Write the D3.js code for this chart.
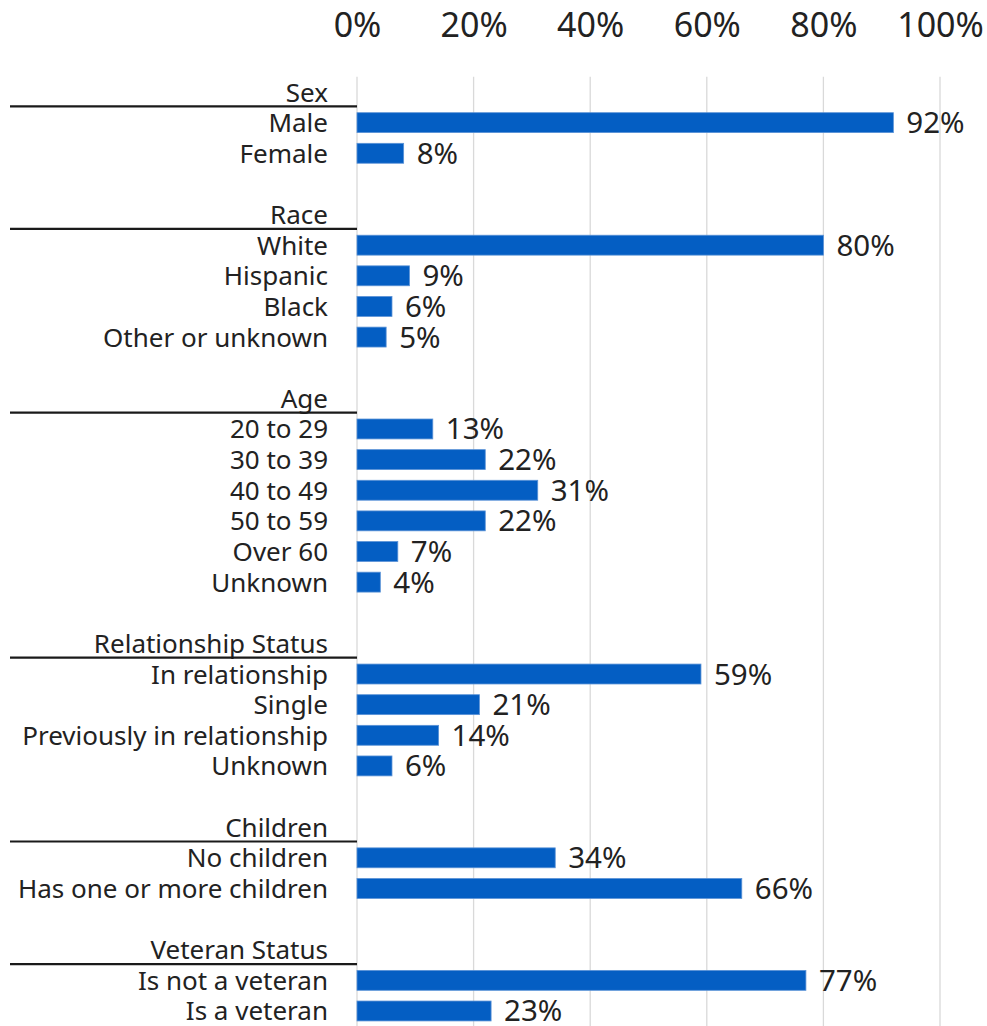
<!DOCTYPE html>
<html>
<head>
<meta charset="utf-8">
<script src="https://cdn.jsdelivr.net/npm/d3@7"></script>
<style>
  html, body { margin: 0; padding: 0; background: #ffffff; }
  svg { display: block; }
  text { font-family: "Noto Sans", "Open Sans", sans-serif; fill: #222222; }
</style>
</head>
<body>
<svg id="chart" width="987" height="1026"></svg>
<script>
// ---- Data ----
const groups = ["Sex", "Race", "Age", "Relationship Status", "Children", "Veteran Status"];
const sexLabels = ["Male", "Female"];
const sexValues = [92, 8];
const raceLabels = ["White", "Hispanic", "Black", "Other or unknown"];
const raceValues = [80, 9, 6, 5];
const ageLabels = ["20 to 29", "30 to 39", "40 to 49", "50 to 59", "Over 60", "Unknown"];
const ageValues = [13, 22, 31, 22, 7, 4];
const relLabels = ["In relationship", "Single", "Previously in relationship", "Unknown"];
const relValues = [59, 21, 14, 6];
const childLabels = ["No children", "Has one or more children"];
const childValues = [34, 66];
const vetLabels = ["Is not a veteran", "Is a veteran"];
const vetValues = [77, 23];
const tickValues = [0, 20, 40, 60, 80, 100];

const groupLabels = [sexLabels, raceLabels, ageLabels, relLabels, childLabels, vetLabels];
const groupValues = [sexValues, raceValues, ageValues, relValues, childValues, vetValues];

// Build row list: header, items, spacer
const rows = [];
groups.forEach((g, gi) => {
  rows.push({ id: "h" + gi, type: "header", label: g });
  groupLabels[gi].forEach((l, i) => rows.push({ id: "r" + gi + "_" + i, type: "item", label: l, value: groupValues[gi][i] }));
  if (gi < groups.length - 1) rows.push({ id: "s" + gi, type: "spacer", label: "" });
});

// ---- Layout ----
const svg = d3.select("#chart");
const x0 = 357, x1 = 940;
const yTop = 76.7, yBot = 1026.3;

const x = d3.scaleLinear().domain([0, 100]).range([x0, x1]);
const y = d3.scaleBand().domain(rows.map(r => r.id)).range([yTop, yBot])
  .paddingInner(0.35).paddingOuter(0.175);
const step = y.step();
const rowCenter = id => y(id) + y.bandwidth() / 2;

// Gridlines
svg.append("g").selectAll("line").data(tickValues).join("line")
  .attr("x1", d => x(d)).attr("x2", d => x(d))
  .attr("y1", yTop).attr("y2", 1026)
  .attr("stroke", "#d9d9d9").attr("stroke-width", 1.3);

// Top axis labels
const axis = d3.axisTop(x).tickValues(tickValues).tickFormat(d => d + "%").tickSize(0).tickPadding(0);
const ag = svg.append("g").attr("transform", "translate(0,37)").call(axis);
ag.select(".domain").remove();
ag.selectAll("text").attr("font-size", 34).attr("fill", "#222222")
  .attr("font-family", "Noto Sans, Open Sans, sans-serif").attr("dy", 0);

// Bars
const items = rows.filter(r => r.type === "item");
svg.append("g").selectAll("rect").data(items).join("rect")
  .attr("x", x(0)).attr("y", d => y(d.id))
  .attr("width", d => x(d.value) - x(0)).attr("height", y.bandwidth())
  .attr("fill", "#045ec3").attr("stroke", "#5a92d6").attr("stroke-width", 0.8);

// Value labels
svg.append("g").selectAll("text").data(items).join("text")
  .attr("x", d => x(d.value) + 13).attr("y", d => rowCenter(d.id) + 10.5)
  .attr("font-size", 29.5).text(d => d.value + "%");

// Category and header labels
const labeled = rows.filter(r => r.type !== "spacer");
svg.append("g").selectAll("text").data(labeled).join("text")
  .attr("x", 328).attr("y", d => rowCenter(d.id) + 9.5)
  .attr("text-anchor", "end").attr("font-size", 26).text(d => d.label);

// Header underline
const headers = rows.filter(r => r.type === "header");
svg.append("g").selectAll("line").data(headers).join("line")
  .attr("x1", 10).attr("x2", x0)
  .attr("y1", d => y(d.id) + y.bandwidth() + step * 0.35 / 2 - 1)
  .attr("y2", d => y(d.id) + y.bandwidth() + step * 0.35 / 2 - 1)
  .attr("stroke", "#1a1a1a").attr("stroke-width", 2.2);
</script>
</body>
</html>
